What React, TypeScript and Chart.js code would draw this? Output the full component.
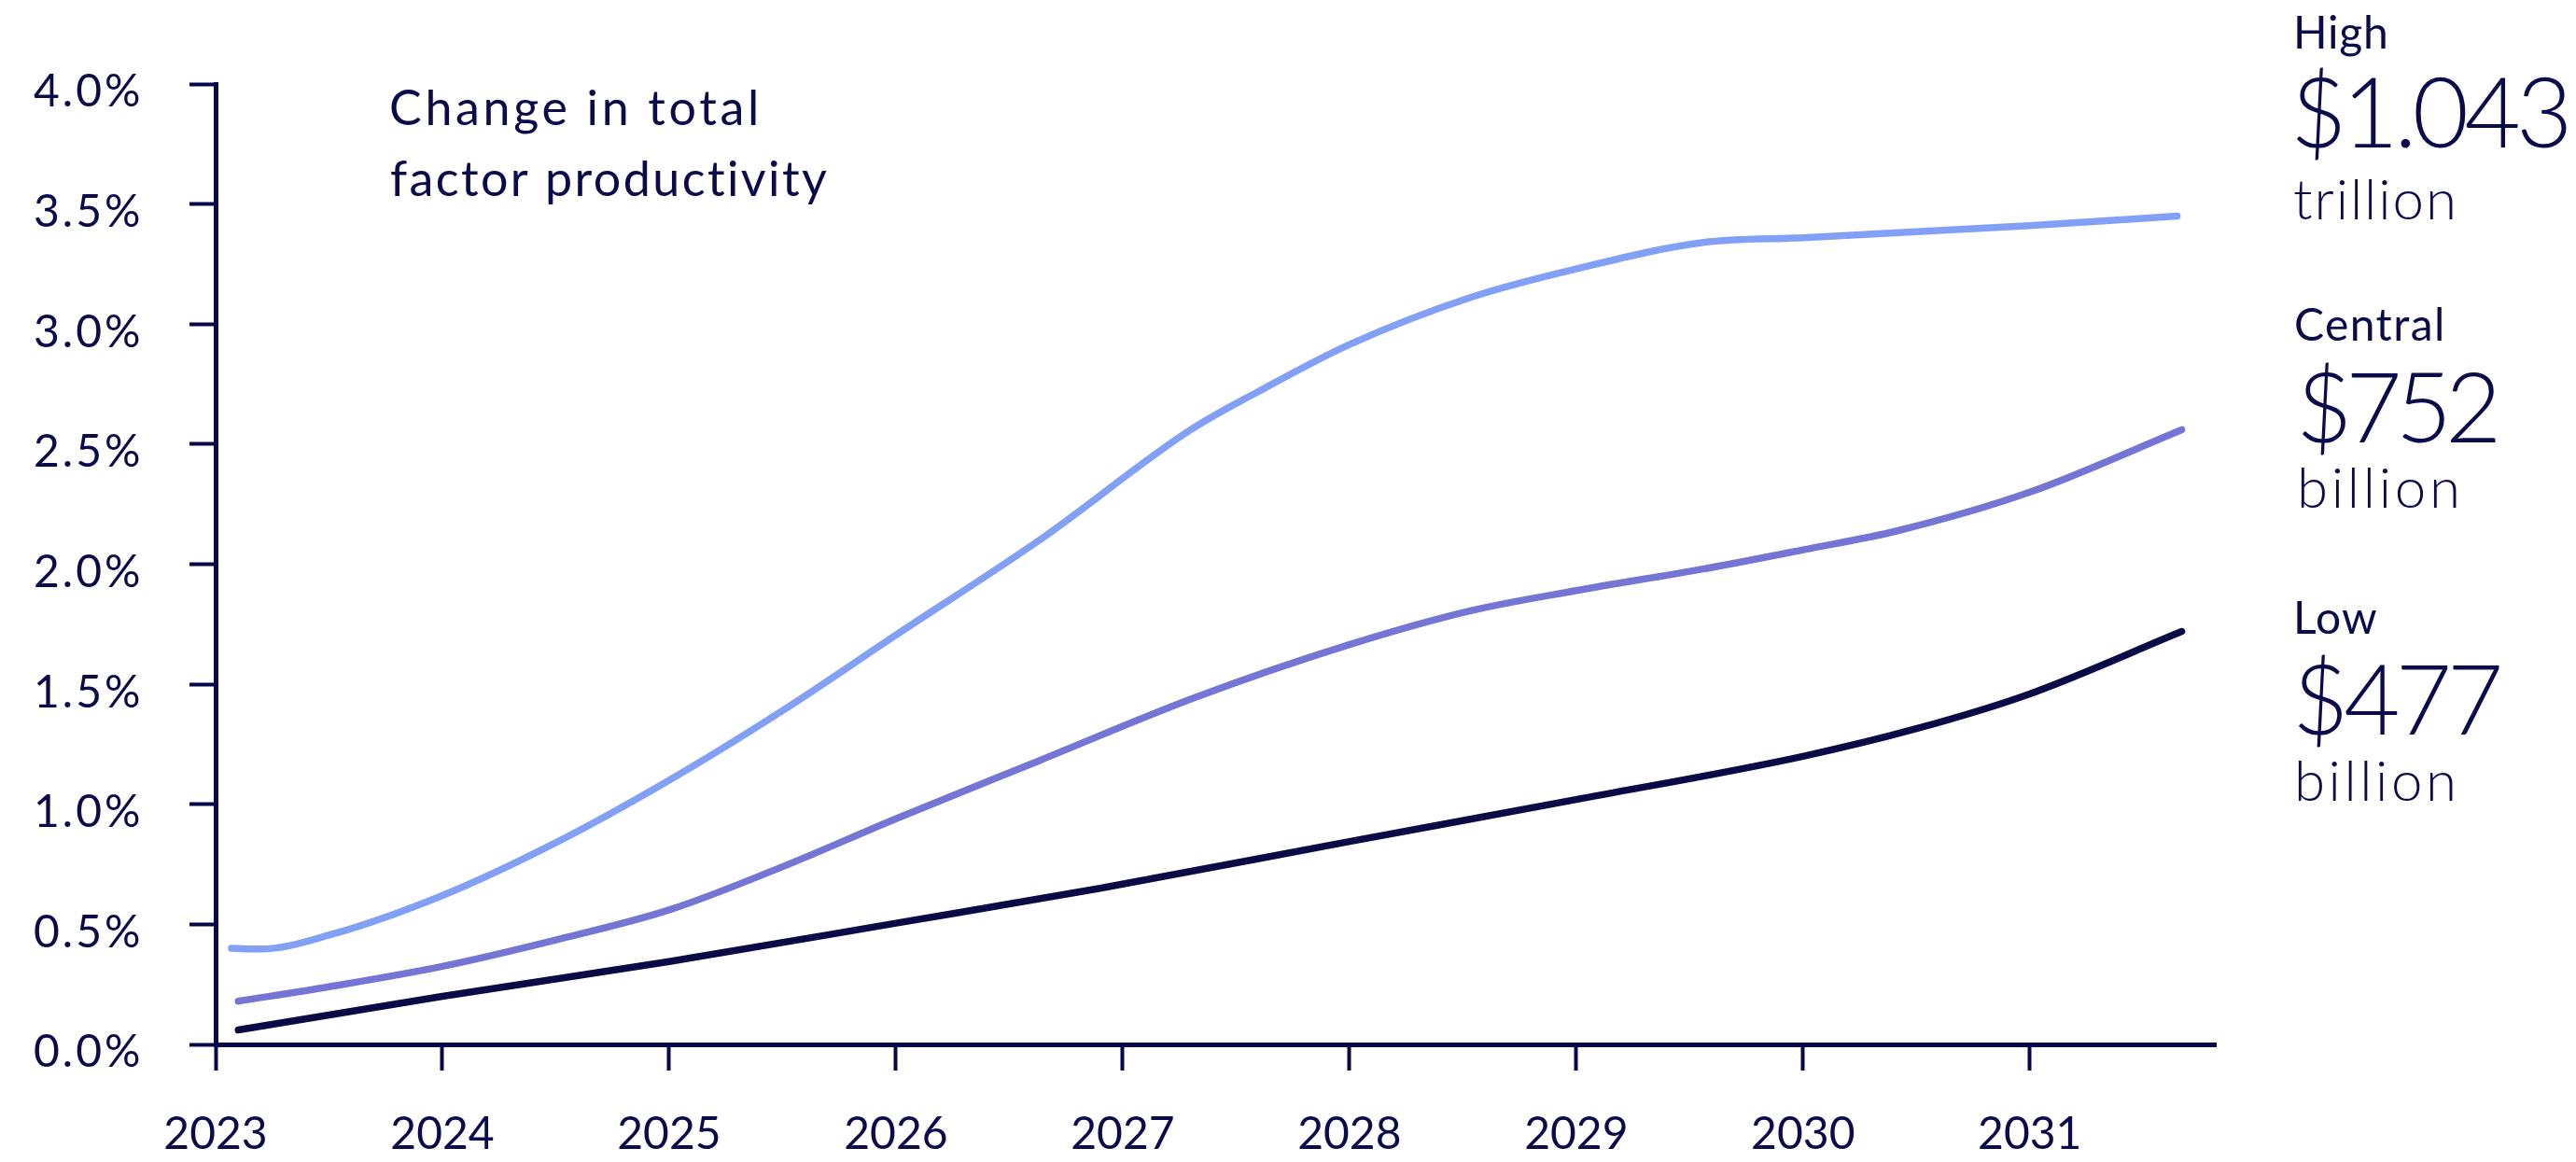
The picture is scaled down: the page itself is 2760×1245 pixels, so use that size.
import React, { useEffect, useRef } from "react";
import { Chart, registerables } from "chart.js";

Chart.register(...registerables);

// ---- Data ----
const xTickYears = [2023, 2024, 2025, 2026, 2027, 2028, 2029, 2030, 2031];
const yTickValues = [0, 0.5, 1, 1.5, 2, 2.5, 3, 3.5, 4];

const highYears = [
  2023.07, 2023.2, 2023.5, 2024.0, 2024.5, 2025.0, 2025.5, 2026.0, 2026.64, 2027.3,
  2027.6, 2028.0, 2028.53, 2029.0, 2029.56, 2030.0, 2031.0, 2031.65,
];
const highValues = [
  0.4, 0.397, 0.455, 0.62, 0.84, 1.1, 1.39, 1.705, 2.105, 2.56,
  2.72, 2.915, 3.11, 3.23, 3.34, 3.36, 3.41, 3.45,
];

const centralYears = [
  2023.1, 2023.5, 2024.0, 2024.5, 2025.0, 2025.5, 2026.0, 2026.64, 2027.32, 2028.0,
  2028.53, 2029.0, 2029.56, 2030.0, 2030.42, 2031.0, 2031.67,
];
const centralValues = [
  0.18, 0.24, 0.325, 0.435, 0.56, 0.74, 0.94, 1.185, 1.445, 1.665,
  1.805, 1.89, 1.98, 2.06, 2.14, 2.3, 2.56,
];

const lowYears = [
  2023.1, 2024.0, 2025.0, 2026.0, 2026.9, 2028.0, 2029.0, 2030.0, 2030.5, 2031.0, 2031.67,
];
const lowValues = [
  0.06, 0.2, 0.345, 0.505, 0.65, 0.845, 1.02, 1.2, 1.315, 1.46, 1.72,
];

const titleLines = ["Change in total", "factor productivity"];
const scenarioNames = ["High", "Central", "Low"];
const scenarioAmounts = ["$1.043", "$752", "$477"];
const scenarioUnits = ["trillion", "billion", "billion"];

// ---- Styles ----
const NAVY = "#0b0b4b";
const AXIS = "#06064a";
const HIGH_COLOR = "#82a1f6";
const CENTRAL_COLOR = "#7575d6";
const LOW_COLOR = "#0a0a46";
const FONT = "Lato, 'Open Sans', sans-serif";

type Fit = { x: number; baseline: number; size: number; weight: number; width: number };

const titleFits: Fit[] = [
  { x: 419, baseline: 134, size: 52, weight: 400, width: 391 },
  { x: 419, baseline: 210, size: 52, weight: 400, width: 468 },
];
const nameFits: Fit[] = [
  { x: 2461, baseline: 52, size: 48, weight: 400, width: 95 },
  { x: 2460, baseline: 364.5, size: 48, weight: 400, width: 156 },
  { x: 2461, baseline: 679, size: 48, weight: 400, width: 85 },
];
const amountFits: Fit[] = [
  { x: 2461, baseline: 158, size: 104, weight: 300, width: 289 },
  { x: 2467, baseline: 473.5, size: 104, weight: 300, width: 207 },
  { x: 2463, baseline: 786.5, size: 104, weight: 300, width: 215 },
];
const unitFits: Fit[] = [
  { x: 2458, baseline: 235, size: 60, weight: 300, width: 170 },
  { x: 2465, baseline: 544, size: 60, weight: 300, width: 167 },
  { x: 2462, baseline: 858, size: 60, weight: 300, width: 166 },
];

function drawFitted(ctx: CanvasRenderingContext2D, text: string, f: Fit) {
  ctx.save();
  ctx.font = `${f.weight} ${f.size}px ${FONT}`;
  (ctx as any).letterSpacing = "0px";
  ctx.textAlign = "left";
  ctx.textBaseline = "alphabetic";
  ctx.fillStyle = NAVY;
  const m = ctx.measureText(text);
  const ink = m.actualBoundingBoxLeft + m.actualBoundingBoxRight;
  const n = text.length;
  const sp = n > 1 ? (f.width - ink) / (n - 1) : 0;
  (ctx as any).letterSpacing = `${sp}px`;
  ctx.fillText(text, f.x + m.actualBoundingBoxLeft, f.baseline);
  ctx.restore();
}

const annotationPlugin = {
  id: "annotations",
  afterDraw(chart: any) {
    const ctx: CanvasRenderingContext2D = chart.ctx;
    titleLines.forEach((t, i) => drawFitted(ctx, t, titleFits[i]));
    scenarioNames.forEach((t, i) => drawFitted(ctx, t, nameFits[i]));
    scenarioAmounts.forEach((t, i) => drawFitted(ctx, t, amountFits[i]));
    scenarioUnits.forEach((t, i) => drawFitted(ctx, t, unitFits[i]));
  },
};

function toPoints(xs: number[], ys: number[]) {
  return xs.map((x, i) => ({ x, y: ys[i] }));
}

export default function App() {
  const canvasRef = useRef<HTMLCanvasElement | null>(null);

  useEffect(() => {
    document.body.style.margin = "0";
    const canvas = canvasRef.current;
    if (!canvas) return;
    const lineStyle = {
      borderWidth: 7.5,
      pointRadius: 0,
      pointHoverRadius: 0,
      fill: false,
      cubicInterpolationMode: "monotone" as const,
      borderCapStyle: "round" as const,
      borderJoinStyle: "round" as const,
    };
    const chart = new Chart(canvas, {
      type: "line",
      data: {
        datasets: [
          { label: "High", data: toPoints(highYears, highValues), borderColor: HIGH_COLOR, ...lineStyle },
          { label: "Central", data: toPoints(centralYears, centralValues), borderColor: CENTRAL_COLOR, ...lineStyle },
          { label: "Low", data: toPoints(lowYears, lowValues), borderColor: LOW_COLOR, ...lineStyle },
        ],
      },
      options: {
        animation: false,
        responsive: true,
        maintainAspectRatio: false,
        devicePixelRatio: 1,
        layout: { padding: { left: 36, top: 90, right: 386, bottom: 6 } },
        plugins: { legend: { display: false }, tooltip: { enabled: false }, title: { display: false } },
        scales: {
          x: {
            type: "linear",
            min: 2023,
            max: 2031.82,
            afterBuildTicks: (s: any) => {
              s.ticks = xTickYears.map((v) => ({ value: v }));
            },
            afterFit: (s: any) => {
              s.height = 120;
            },
            border: { display: true, color: AXIS, width: 5 },
            grid: { display: true, drawOnChartArea: false, drawTicks: true, tickLength: 28, tickWidth: 4, tickColor: AXIS },
            ticks: {
              color: NAVY,
              font: { family: FONT, size: 48, weight: 400 },
              padding: 40,
              maxRotation: 0,
              autoSkip: false,
              callback: (v: any) => String(v),
            },
          },
          y: {
            type: "linear",
            min: 0,
            max: 4,
            afterBuildTicks: (s: any) => {
              s.ticks = yTickValues.map((v) => ({ value: v }));
            },
            afterFit: (s: any) => {
              s.width = 195;
              if (!s.__spaced) {
                const orig = s.drawLabels.bind(s);
                s.drawLabels = (area: any) => {
                  const c = s.ctx as any;
                  c.save();
                  c.letterSpacing = "3px";
                  orig(area);
                  c.restore();
                };
                s.__spaced = true;
              }
            },
            border: { display: true, color: AXIS, width: 5 },
            grid: { display: true, drawOnChartArea: false, drawTicks: true, tickLength: 28, tickWidth: 4, tickColor: AXIS },
            ticks: {
              color: NAVY,
              font: { family: FONT, size: 48, weight: 400 },
              crossAlign: "far",
              labelOffset: 9,
              padding: 20,
              callback: (v: any) => Number(v).toFixed(1) + "%",
            },
          },
        },
      },
      plugins: [annotationPlugin],
    });
    return () => chart.destroy();
  }, []);

  return (
    <div style={{ position: "absolute", left: 0, top: 0, width: 2760, height: 1245, background: "#ffffff" }}>
      <canvas ref={canvasRef} />
    </div>
  );
}
